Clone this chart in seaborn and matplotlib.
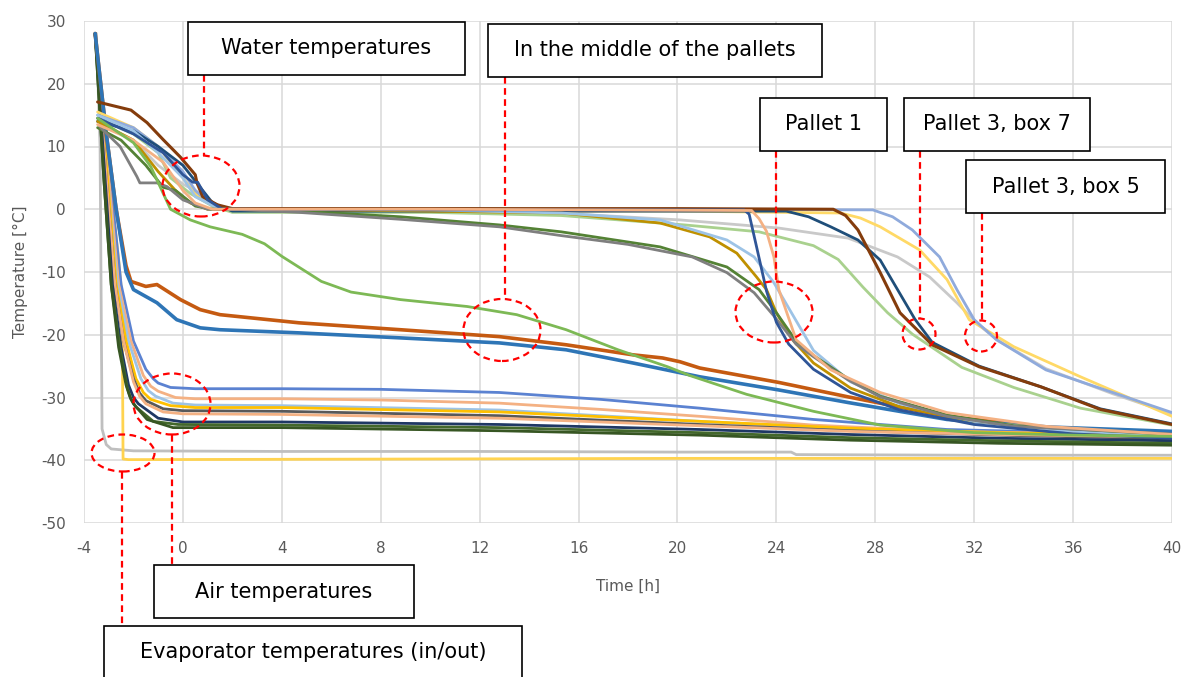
import matplotlib
matplotlib.use("Agg")
import matplotlib.pyplot as plt
import seaborn as sns
import pandas as pd
from matplotlib.patches import Rectangle, Ellipse
from matplotlib.lines import Line2D

# ---------------- data ----------------
x_ticks = [-4, 0, 4, 8, 12, 16, 20, 24, 28, 32, 36, 40]
y_ticks = [-50, -40, -30, -20, -10, 0, 10, 20, 30]

# Evaporator temperatures
evap_gray_t = [-3.5, -3.35, -3.27, -3.1, -2.9, -2.0, 4, 12, 20, 24.6, 24.8, 32, 40]
evap_gray_v = [28.0, 10.0, -35.0, -37.5, -38.2, -38.5, -38.6, -38.6, -38.7, -38.7, -39.1, -39.2, -39.2]
evap_yellow_t = [-3.55, -3.2, -2.87, -2.6, -2.46, -2.42, -2.2, 10, 20, 40]
evap_yellow_v = [28.0, 14.0, 1.5, -8.0, -14.0, -39.8, -39.9, -39.8, -39.7, -39.7]

# Air temperatures
air_blue_t = [-3.55, -2.95, -2.5, -2.0, -1.5, -1.2, -1.0, -0.5, 0.5, 4, 8, 12.8, 16.9, 20.9, 25.5, 30.9, 35, 40]
air_blue_v = [28, 5, -12, -21, -25.5, -27.0, -27.7, -28.4, -28.6, -28.6, -28.7, -29.2, -30.3, -31.7, -33.5, -35.1, -35.5, -35.6]
air_salmon_t = [-3.55, -3.0, -2.6, -2.1, -1.6, -1.3, -1.0, -0.3, 0.5, 4, 8, 12.8, 16.9, 20.9, 25.5, 30.9, 40]
air_salmon_v = [28, 5, -12, -21, -26.5, -28.2, -29, -30, -30.2, -30.2, -30.4, -30.9, -31.9, -33.0, -34.4, -35.4, -36.0]
air_lightblue_t = [-3.55, -3.05, -2.65, -2.2, -1.7, -1.4, -1.1, -0.4, 0.5, 4, 12.8, 20.9, 27, 33, 40]
air_lightblue_v = [28, 5, -12, -21, -27, -28.9, -29.8, -30.9, -31.2, -31.3, -32.0, -33.8, -35.0, -35.8, -36.3]
air_gold_t = [-3.55, -3.05, -2.7, -2.3, -1.9, -1.6, -1.3, -0.5, 0.5, 4, 12.8, 20.9, 27, 33, 40]
air_gold_v = [28, 5, -12, -21, -27, -29.2, -30.3, -31.3, -31.6, -31.6, -32.3, -33.8, -34.9, -35.6, -36.1]
air_darkgray_t = [-3.55, -3.1, -2.75, -2.4, -2.0, -1.75, -1.5, -0.8, 0.0, 4, 12.8, 20.9, 27, 33, 40]
air_darkgray_v = [28, 5, -12, -21, -27, -29.3, -30.5, -31.8, -32.1, -32.2, -32.9, -34.3, -35.3, -36.0, -36.6]
air_salmon2_t = [-3.55, -3.1, -2.75, -2.4, -2.0, -1.75, -1.5, -0.8, 0.0, 4, 12.8, 20.9, 27, 33, 40]
air_salmon2_v = [28, 5, -12, -21, -27.5, -29.8, -31, -32.3, -32.6, -32.7, -33.3, -34.5, -35.4, -35.9, -36.3]
air_darkblue_t = [-3.55, -3.15, -2.85, -2.5, -2.2, -2.0, -1.8, -1.0, 0.0, 4, 12.8, 20.9, 27, 33, 40]
air_darkblue_v = [28, 5, -12, -22, -28, -30, -31, -33.3, -33.9, -33.9, -34.3, -35.1, -35.9, -36.5, -36.9]
air_green1_t = [-3.55, -3.2, -2.9, -2.55, -2.25, -2.1, -1.9, -1.2, -0.2, 4, 12.8, 20.9, 27, 33, 40]
air_green1_v = [28, 5, -12, -22, -28.5, -30.3, -31.5, -33.8, -34.3, -34.4, -34.8, -35.6, -36.4, -36.9, -37.3]
air_green2_t = [-3.55, -3.2, -2.9, -2.6, -2.3, -2.15, -2.0, -1.45, -0.4, 4, 12.8, 20.9, 27, 33, 40]
air_green2_v = [28, 5, -12, -22, -28, -29.8, -31, -33.5, -34.8, -34.8, -35.3, -36.0, -36.8, -37.3, -37.6]

# In the middle of the pallets (noisy traces)
mid_orange_t = [-3.55, -3.1, -2.7, -2.3, -2.1, -1.5, -1.05, -0.1, 0.7, 1.5, 4.7, 8.8, 12.8, 15.5,
                18.2, 19.4, 20.1, 20.9, 24.1, 26.9, 30.9, 34.9, 40]
mid_orange_v = [28, 12, 0, -9, -11.5, -12.3, -12.0, -14.4, -16.0, -16.8, -18.1, -19.2, -20.3, -21.6,
                -23.2, -23.7, -24.3, -25.3, -27.6, -29.9, -33.0, -34.8, -35.9]
mid_blue_t = [-3.55, -3.1, -2.7, -2.3, -2.0, -1.05, -0.25, 0.7, 1.5, 4.7, 8.8, 12.8, 15.5, 18.2,
              20.9, 24.1, 26.9, 30.9, 35, 40]
mid_blue_v = [28, 12, 0, -10, -12.8, -14.9, -17.6, -18.9, -19.2, -19.7, -20.5, -21.3, -22.4, -24.5,
              -26.7, -28.8, -30.8, -33.5, -34.7, -35.4]

# Water temperatures (products)
lightgray_t = [-3.45, -2.0, -1.0, 0.0, 0.5, 1.2, 2.0, 12, 16, 20.1, 24.1, 26.9, 28.9, 30.2, 31.3, 32.2, 33.0, 34.9, 37.6, 40]
lightgray_v = [14.0, 11.0, 7.0, 4.0, 3.0, 0.5, 0.0, -0.2, -0.8, -1.7, -3.0, -4.6, -7.6, -10.8, -14.9, -18.5, -21.0, -25.4, -29.4, -32.6]
yellow_t = [-3.45, -2.0, -1.0, 0.0, 0.5, 1.5, 2.0, 10, 20, 26.6, 27.4, 28.2, 29.8, 30.9, 31.8, 33.6, 36.3, 40]
yellow_v = [15.5, 13.0, 10.0, 5.0, 2.5, 0.0, -0.3, -0.3, -0.3, -0.6, -1.4, -2.8, -6.5, -11.2, -17.6, -21.9, -26.7, -33.0]
violet_t = [-3.45, -2.0, -1.0, 0.0, 0.5, 1.2, 2.0, 10, 20, 27.9, 28.7, 29.5, 30.6, 31.3, 32.0, 32.9, 34.9, 37.6, 40]
violet_v = [15.0, 13.0, 10.0, 6.0, 3.0, 0.5, 0.0, 0.0, 0.0, -0.1, -1.2, -3.3, -7.6, -12.8, -17.6, -20.8, -25.6, -29.2, -32.4]
lightgreen_t = [-3.45, -2.0, -1.0, -0.5, 0.3, 1.2, 2.0, 10, 15.3, 20.3, 23.3, 25.5, 26.5, 27.5, 28.5, 29.5, 31.5, 33.6, 36.3, 40]
lightgreen_v = [14.5, 12.0, 9.0, 5.0, 2.5, 0.5, -0.5, -0.5, -1.0, -2.5, -3.6, -5.8, -8.0, -12.4, -16.5, -19.9, -25.2, -28.4, -31.7, -34.4]
navy_t = [-3.45, -2.0, -1.0, 0.0, 0.5, 1.2, 2.0, 10, 20, 24.4, 25.3, 26.2, 27.3, 28.2, 28.9, 29.6, 30.3, 32.2, 34.7, 37.1, 40]
navy_v = [14.0, 12.5, 10.0, 7.0, 4.5, 1.0, -0.3, -0.3, -0.3, -0.3, -1.2, -2.8, -4.9, -8.1, -12.8, -17.5, -21.2, -25.0, -28.3, -31.8, -34.2]
brown_t = [-3.45, -2.1, -1.45, -0.8, -0.1, 0.5, 0.57, 0.8, 1.4, 2.0, 10, 20, 26.3, 26.8, 27.3, 28.2, 29.0, 30.3, 32.2, 34.7, 37.1, 40]
brown_v = [17.1, 15.8, 13.8, 11.1, 8.3, 5.5, 4.2, 2.0, 0.7, 0.1, 0.1, 0.1, 0.0, -1.0, -3.3, -10.1, -16.5, -21.6, -25.1, -28.3, -31.9, -34.3]
gold_t = [-3.45, -2.0, -1.0, -0.3, 0.3, 1.0, 6, 10, 15.3, 19.3, 21.3, 22.4, 23.2, 23.6, 24.0, 24.7, 25.5, 27.0, 29.0, 32.0, 36.0, 40]
gold_v = [14.0, 11.0, 6.0, 3.0, 1.0, 0.0, -0.1, -0.3, -0.6, -2.2, -4.4, -7.0, -10.8, -12.8, -16.5, -21.0, -24.5, -28.5, -31.5, -33.8, -35.3, -36.0]
lightblue_t = [-3.45, -2.0, -1.0, 0.0, 0.5, 1.5, 10, 15.3, 19.3, 22.0, 23.1, 23.9, 24.7, 25.5, 27.0, 29.0, 32.0, 36.0, 40]
lightblue_v = [15.0, 12.5, 9.0, 5.0, 2.0, 0.0, -0.1, -0.6, -1.7, -4.9, -7.6, -11.7, -17.1, -22.5, -27.5, -31.0, -33.8, -35.4, -36.0]
green_t = [-3.45, -2.5, -1.5, -0.8, -0.3, 0.5, 1.2, 2.0, 4.7, 8.8, 12.8, 15.3, 19.3, 22.0, 23.3, 24.0, 24.8, 25.5, 26.9, 28.2, 30.9, 33.6, 40]
green_v = [13.0, 11.0, 7.0, 3.5, 3.0, 0.5, 0.0, 0.0, -0.3, -1.2, -2.5, -3.6, -6.0, -9.2, -12.8, -16.5, -21.0, -23.3, -27.0, -29.8, -32.8, -34.5, -35.9]
gray_t = [-3.35, -2.54, -1.86, -1.74, -1.05, -0.64, 0.0, 1.0, 2.0, 4.7, 8.8, 12.8, 15.3, 18.0, 20.6, 22.0, 23.1,
          23.9, 24.8, 25.5, 26.9, 28.2, 30.9, 33.6, 40]
gray_v = [13.1, 10.0, 5.2, 4.2, 4.2, 3.6, 1.5, 0.0, 0.0, -0.5, -1.6, -2.8, -4.2, -5.6, -7.6, -10.1, -13.3,
          -17.0, -21.5, -23.5, -27.2, -29.9, -33.0, -34.6, -35.8]
darkblue_t = [-3.45, -2.0, -0.8, 0.0, 0.4, 0.6, 1.0, 1.6, 10, 22.7, 22.9, 23.2, 23.6, 24.0, 24.5, 25.5, 27.0, 29.0, 32.0, 36.0, 40]
darkblue_v = [14.5, 12.0, 9.0, 5.5, 4.3, 4.3, 1.5, 0.0, -0.1, -0.1, -0.8, -6.0, -13.0, -18.0, -21.5, -25.5, -29.2, -32.0, -34.3, -35.8, -36.5]
salmon_t = [-3.45, -2.0, -0.8, 0.0, 0.5, 1.2, 10, 23.0, 23.3, 23.6, 23.9, 24.1, 24.8, 26.2, 28.2, 30.9, 34.9, 40]
salmon_v = [13.5, 11.0, 7.5, 3.0, 1.0, 0.0, 0.0, -0.2, -1.5, -3.5, -7.6, -12.8, -20.8, -25.6, -29.2, -32.4, -34.6, -35.9]
midgreen_t = [-3.45, -2.0, -1.3, -0.5, 0.3, 1.1, 2.4, 3.3, 4.0, 4.8, 5.6, 6.8, 8.8, 11.5, 13.5, 15.5, 17.6,
              19.6, 20.5, 22.8, 25.5, 28.2, 32, 36, 40]
midgreen_v = [14.5, 10.6, 6.8, 0.0, -1.7, -2.8, -4.0, -5.5, -7.5, -9.5, -11.5, -13.2, -14.4, -15.5, -16.8, -19.2, -22.4,
              -25.1, -26.5, -29.5, -32.2, -34.4, -35.6, -36.0, -36.2]

series = [
    ("evap_gray", evap_gray_t, evap_gray_v, "#BFBFBF", 2.0),
    ("evap_yellow", evap_yellow_t, evap_yellow_v, "#FFD34F", 2.0),
    ("air_blue", air_blue_t, air_blue_v, "#5B82D1", 2.0),
    ("air_salmon", air_salmon_t, air_salmon_v, "#F4B183", 2.0),
    ("air_lightblue", air_lightblue_t, air_lightblue_v, "#9DC3E6", 2.0),
    ("air_gold", air_gold_t, air_gold_v, "#FFC000", 2.0),
    ("air_darkgray", air_darkgray_t, air_darkgray_v, "#595959", 2.0),
    ("air_salmon2", air_salmon2_t, air_salmon2_v, "#F4B183", 2.0),
    ("air_darkblue", air_darkblue_t, air_darkblue_v, "#1F3864", 2.0),
    ("air_green1", air_green1_t, air_green1_v, "#43682B", 2.0),
    ("air_green2", air_green2_t, air_green2_v, "#375623", 2.0),
    ("mid_orange", mid_orange_t, mid_orange_v, "#C55A11", 2.6),
    ("mid_blue", mid_blue_t, mid_blue_v, "#2E75B6", 2.6),
    ("lightgray", lightgray_t, lightgray_v, "#C9C9C9", 2.0),
    ("yellow", yellow_t, yellow_v, "#FFD966", 2.0),
    ("violet", violet_t, violet_v, "#8FAADC", 2.0),
    ("lightgreen", lightgreen_t, lightgreen_v, "#A9D18E", 2.0),
    ("navy", navy_t, navy_v, "#1F4E79", 2.0),
    ("brown", brown_t, brown_v, "#843C0C", 2.2),
    ("gold", gold_t, gold_v, "#BF9000", 2.0),
    ("lightblue", lightblue_t, lightblue_v, "#9DC3E6", 2.0),
    ("green", green_t, green_v, "#548235", 2.0),
    ("gray", gray_t, gray_v, "#7F7F7F", 2.0),
    ("darkblue", darkblue_t, darkblue_v, "#2F5597", 2.0),
    ("salmon", salmon_t, salmon_v, "#F4B183", 2.0),
    ("midgreen", midgreen_t, midgreen_v, "#7DB955", 2.0),
]

# ---------------- drawing ----------------
sns.set_theme(style="white")
plt.rcParams["font.family"] = ["DejaVu Sans"]
plt.rcParams["axes.unicode_minus"] = False

W, H = 1189, 677
fig = plt.figure(figsize=(W / 100, H / 100), dpi=100)
ax = fig.add_axes([84 / W, 1 - 523 / H, (1172 - 84) / W, (523 - 21) / H])

for name, t, v, col, lw in series:
    df = pd.DataFrame({"time": t, "temp": v})
    sns.lineplot(data=df, x="time", y="temp", ax=ax, color=col, linewidth=lw,
                 sort=False, estimator=None, legend=False, solid_capstyle="round",
                 solid_joinstyle="round")

ax.set_xlim(-4, 40)
ax.set_ylim(-50, 30)
ax.set_xticks(x_ticks)
ax.set_yticks(y_ticks)
ax.grid(True, color="#D9D9D9", linewidth=1.1)
ax.set_axisbelow(True)
for s in ax.spines.values():
    s.set_visible(False)
ax.tick_params(axis="both", length=0, labelsize=11, labelcolor="#595959", pad=13)
ax.set_xlabel("Time [h]", fontsize=11, color="#595959", va="center")
ax.set_ylabel("Temperature [°C]", fontsize=11, color="#595959", va="center")
ax.xaxis.set_label_coords(0.5, (523 - 586) / 502)
ax.yaxis.set_label_coords((20 - 84) / 1088, 0.5)


# ---------------- annotations (figure pixel layout) ----------------
def fx(x):
    return x / W


def fy(y):
    return 1 - y / H


RED = "#FF0000"
DASH = (0, (3, 2))

boxes = [
    ("Water temperatures", 188, 22, 465, 75),
    ("In the middle of the pallets", 488, 24, 822, 77),
    ("Pallet 1", 760, 98, 887, 151),
    ("Pallet 3, box 7", 904, 98, 1090, 151),
    ("Pallet 3, box 5", 966, 160, 1165, 213),
    ("Air temperatures", 154, 565, 414, 618),
    ("Evaporator temperatures (in/out)", 104, 626, 522, 700),
]
ellipses = [
    (201, 186, 77, 61),
    (502, 330, 77, 62),
    (774, 312, 77, 61),
    (919, 334, 33, 31),
    (981, 336, 32, 31),
    (172, 404, 77, 61),
    (123, 453, 63, 37),
]
leaders = [
    (204, 75, 156),
    (505, 77, 299),
    (776, 151, 282),
    (920, 151, 319),
    (982, 213, 321),
    (172, 435, 565),
    (122, 472, 626),
]

for x, y1, y2 in leaders:
    fig.add_artist(Line2D([fx(x), fx(x)], [fy(y1), fy(y2)], transform=fig.transFigure,
                          color=RED, linewidth=1.6, linestyle=DASH, zorder=6))
for cx, cy, w, h in ellipses:
    fig.add_artist(Ellipse((fx(cx), fy(cy)), w / W, h / H, transform=fig.transFigure,
                           fill=False, edgecolor=RED, linewidth=1.6, linestyle=DASH, zorder=6))
for txt, l, t, r, b in boxes:
    fig.add_artist(Rectangle((fx(l), fy(b)), (r - l) / W, (b - t) / H, transform=fig.transFigure,
                             facecolor="white", edgecolor="black", linewidth=1.2, zorder=7))
    yc = (t + b) / 2 if b <= H else t + 26
    fig.text(fx((l + r) / 2), fy(yc), txt, ha="center", va="center", fontsize=15,
             color="black", zorder=8)

fig.savefig("out.png", dpi=100)
